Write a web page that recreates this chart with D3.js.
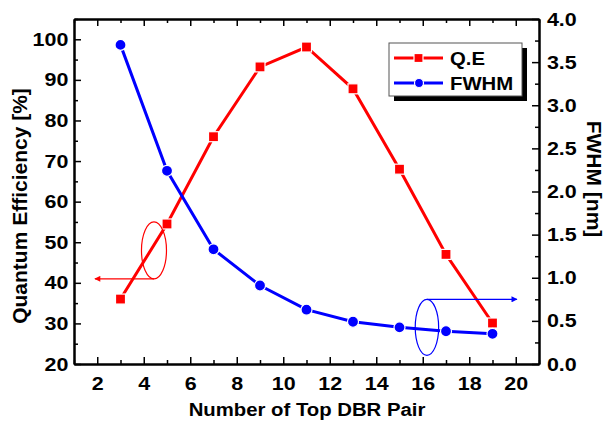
<!DOCTYPE html>
<html>
<head>
<meta charset="utf-8">
<script src="https://cdn.jsdelivr.net/npm/d3@7"></script>
<style>
  body { margin: 0; background: #fff; }
  text { font-family: "Liberation Sans", Arial, sans-serif; font-weight: bold; }
</style>
</head>
<body>
<div id="chart"></div>
<script>
// data
const pairs = [3, 5, 7, 9, 11, 13, 15, 17, 19];
const qe = [36, 54.5, 76, 93.2, 98.1, 87.8, 68, 47, 30.1];
const fwhm = [3.70, 2.24, 1.33, 0.91, 0.63, 0.49, 0.425, 0.38, 0.35];

const xTicks = [2, 4, 6, 8, 10, 12, 14, 16, 18, 20];
const xMinor = [1, 3, 5, 7, 9, 11, 13, 15, 17, 19, 21];
const leftTicks = [20, 30, 40, 50, 60, 70, 80, 90, 100];
const leftMinor = [25, 35, 45, 55, 65, 75, 85, 95, 105];
const rightTicks = [0, 0.5, 1, 1.5, 2, 2.5, 3, 3.5, 4];
const rightMinor = [0.25, 0.75, 1.25, 1.75, 2.25, 2.75, 3.25, 3.75];

const width = 607, height = 421;
const stretch = 1.13;

const svg = d3.select("#chart").append("svg")
  .attr("width", width)
  .attr("height", height);

const x = d3.scaleLinear().domain([1, 21]).range([74, 539]);
const yL = d3.scaleLinear().domain([20, 105]).range([364, 19]);
const yR = d3.scaleLinear().domain([0, 4]).range([364, 19]);

const red = "#ff0000", blue = "#0000ff";

// axes, ticks all inward
function styleAxis(g) {
  g.select(".domain").attr("stroke", "#000").attr("stroke-width", 2);
  g.selectAll(".tick line").attr("stroke", "#000").attr("stroke-width", 1.5);
}

svg.append("g").attr("transform", "translate(0,364)")
  .call(d3.axisBottom(x).tickValues(xTicks).tickSize(-7).tickPadding(13).tickSizeOuter(0))
  .call(styleAxis)
  .call(g => g.selectAll("text").attr("font-size", "19px").attr("fill", "#000")
    .attr("transform", `scale(${stretch},1)`));
svg.append("g").attr("transform", "translate(0,364)")
  .call(d3.axisBottom(x).tickValues(xMinor).tickSize(-4).tickFormat("").tickSizeOuter(0))
  .call(styleAxis);

svg.append("g").attr("transform", "translate(0,19)")
  .call(d3.axisTop(x).tickValues(xTicks).tickSize(-7).tickFormat("").tickSizeOuter(0))
  .call(styleAxis);
svg.append("g").attr("transform", "translate(0,19)")
  .call(d3.axisTop(x).tickValues(xMinor).tickSize(-4).tickFormat("").tickSizeOuter(0))
  .call(styleAxis);

svg.append("g").attr("transform", "translate(74,0)")
  .call(d3.axisLeft(yL).tickValues(leftTicks).tickSize(-7).tickPadding(5).tickSizeOuter(0))
  .call(styleAxis)
  .call(g => g.selectAll("text").attr("font-size", "19px").attr("fill", "#000")
    .attr("transform", `scale(${stretch},1)`));
svg.append("g").attr("transform", "translate(74,0)")
  .call(d3.axisLeft(yL).tickValues(leftMinor).tickSize(-4).tickFormat("").tickSizeOuter(0))
  .call(styleAxis);

svg.append("g").attr("transform", "translate(539,0)")
  .call(d3.axisRight(yR).tickValues(rightTicks).tickSize(-7).tickPadding(7)
    .tickFormat(d3.format(".1f")).tickSizeOuter(0))
  .call(styleAxis)
  .call(g => g.selectAll("text").attr("font-size", "19px").attr("fill", "#000")
    .attr("transform", `scale(${stretch},1)`));
svg.append("g").attr("transform", "translate(539,0)")
  .call(d3.axisRight(yR).tickValues(rightMinor).tickSize(-4).tickFormat("").tickSizeOuter(0))
  .call(styleAxis);

// axis titles
svg.append("text")
  .attr("transform", `translate(307,416) scale(${stretch},1)`)
  .attr("text-anchor", "middle")
  .attr("font-size", "18px")
  .text("Number of Top DBR Pair");

svg.append("text")
  .attr("transform", "translate(27,206) rotate(-90)")
  .attr("text-anchor", "middle")
  .attr("font-size", "21px")
  .text("Quantum Efficiency [%]");

svg.append("text")
  .attr("transform", "translate(587,179) rotate(90)")
  .attr("text-anchor", "middle")
  .attr("font-size", "21px")
  .text("FWHM [nm]");

// series
const qeData = pairs.map((p, i) => ({ x: p, y: qe[i] }));
const fwData = pairs.map((p, i) => ({ x: p, y: fwhm[i] }));

svg.append("path")
  .datum(qeData)
  .attr("fill", "none")
  .attr("stroke", red)
  .attr("stroke-width", 3)
  .attr("d", d3.line().x(d => x(d.x)).y(d => yL(d.y)));

svg.append("path")
  .datum(fwData)
  .attr("fill", "none")
  .attr("stroke", blue)
  .attr("stroke-width", 3)
  .attr("d", d3.line().x(d => x(d.x)).y(d => yR(d.y)));

svg.selectAll(".sq")
  .data(qeData)
  .join("rect")
  .attr("class", "sq")
  .attr("x", d => x(d.x) - 5)
  .attr("y", d => yL(d.y) - 5)
  .attr("width", 10)
  .attr("height", 10)
  .attr("fill", red)
  .attr("stroke", "#fff")
  .attr("stroke-width", 1.2);

svg.selectAll(".dot")
  .data(fwData)
  .join("circle")
  .attr("class", "dot")
  .attr("cx", d => x(d.x))
  .attr("cy", d => yR(d.y))
  .attr("r", 5.5)
  .attr("fill", blue)
  .attr("stroke", "#fff")
  .attr("stroke-width", 1.2);

// annotations: ellipse + arrow pointing to the axis each series uses
const defs = svg.append("defs");
[["arrRed", red], ["arrBlue", blue]].forEach(([id, c]) => {
  defs.append("marker")
    .attr("id", id)
    .attr("viewBox", "0 0 10 10")
    .attr("refX", 9).attr("refY", 5)
    .attr("markerWidth", 6).attr("markerHeight", 5)
    .attr("orient", "auto")
    .append("path").attr("d", "M0,0L10,5L0,10Z").attr("fill", c);
});

const redCx = x(4.44), redCy = yL(48);
svg.append("ellipse")
  .attr("cx", redCx).attr("cy", redCy)
  .attr("rx", 12.5).attr("ry", 28.5)
  .attr("fill", "none").attr("stroke", red).attr("stroke-width", 1.2);
svg.append("line")
  .attr("x1", redCx).attr("y1", redCy + 28.5)
  .attr("x2", x(1.9)).attr("y2", redCy + 28.5)
  .attr("stroke", red).attr("stroke-width", 1.2)
  .attr("marker-end", "url(#arrRed)");

const blueCx = x(16.18), blueCy = yR(0.425);
svg.append("ellipse")
  .attr("cx", blueCx).attr("cy", blueCy)
  .attr("rx", 11.7).attr("ry", 28)
  .attr("fill", "none").attr("stroke", blue).attr("stroke-width", 1.2);
svg.append("line")
  .attr("x1", blueCx).attr("y1", blueCy - 28)
  .attr("x2", x(20.05)).attr("y2", blueCy - 28)
  .attr("stroke", blue).attr("stroke-width", 1.2)
  .attr("marker-end", "url(#arrBlue)");

// legend
const legend = svg.append("g").attr("transform", "translate(389,43)");
legend.append("rect").attr("x", 5).attr("y", 5).attr("width", 133).attr("height", 53).attr("fill", "#000");
legend.append("rect").attr("width", 133).attr("height", 53).attr("fill", "#fff")
  .attr("stroke", "#555").attr("stroke-width", 1);

const items = [
  { label: "Q.E", color: red, shape: "square" },
  { label: "FWHM", color: blue, shape: "circle" }
];
items.forEach((it, i) => {
  const g = legend.append("g").attr("transform", `translate(0,${15 + i * 25})`);
  g.append("line").attr("x1", 5).attr("x2", 54).attr("y1", 0).attr("y2", 0)
    .attr("stroke", it.color).attr("stroke-width", 3);
  if (it.shape === "square") {
    g.append("rect").attr("x", 25).attr("y", -4.5).attr("width", 9).attr("height", 9)
      .attr("fill", it.color).attr("stroke", "#fff").attr("stroke-width", 1.2);
  } else {
    g.append("circle").attr("cx", 30).attr("cy", 0).attr("r", 4.5)
      .attr("fill", it.color).attr("stroke", "#fff").attr("stroke-width", 1.2);
  }
  g.append("text").attr("transform", `translate(61,6.5) scale(${stretch},1)`)
    .attr("font-size", "18px").text(it.label);
});
</script>
</body>
</html>
